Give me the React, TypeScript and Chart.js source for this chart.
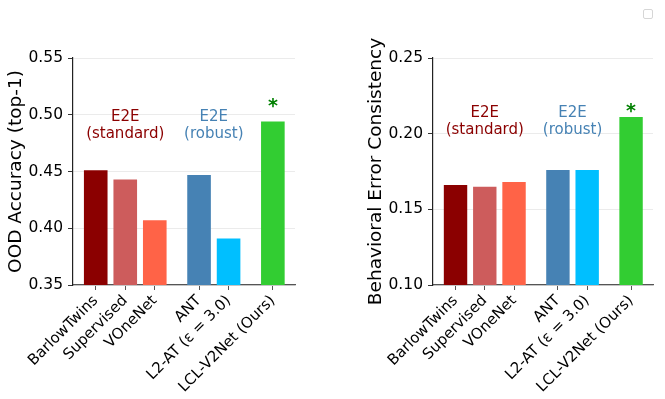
import React, { useEffect, useRef } from "react";
import { Chart, registerables } from "chart.js";

Chart.register(...registerables);

// ---------- data ----------
const categories = ["BarlowTwins", "Supervised", "VOneNet", "ANT", "L2-AT (ε = 3.0)", "LCL-V2Net (Ours)"];
const groupOf = [0, 0, 0, 1, 1, 2];
const oodAccuracy = [0.451, 0.443, 0.407, 0.447, 0.391, 0.494];
const errorConsistency = [0.166, 0.165, 0.168, 0.176, 0.176, 0.211];
const barColors = ["#8B0000", "#CD5C5C", "#FF6347", "#4682B4", "#00BFFF", "#32CD32"];
const oodTicks = [0.35, 0.4, 0.45, 0.5, 0.55];
const consistencyTicks = [0.1, 0.15, 0.2, 0.25];

// category slot = index + half-slot gap per group
const slots = categories.map((_, i) => i + groupOf[i] * 0.5);

const FONT = "'DejaVu Sans', sans-serif";

type Note = { x: number; y: number; text: string; color: string; font: string; baseline?: CanvasTextBaseline };

function notesPlugin(notes: Note[]) {
  return {
    id: "notes",
    afterDatasetsDraw(chart: any) {
      const { ctx, scales } = chart;
      notes.forEach((n) => {
        ctx.save();
        ctx.font = n.font;
        ctx.fillStyle = n.color;
        ctx.textAlign = "center";
        ctx.textBaseline = n.baseline || "middle";
        ctx.fillText(n.text, scales.x.getPixelForValue(n.x), scales.y.getPixelForValue(n.y));
        ctx.restore();
      });
    },
  };
}

function buildConfig(opts: {
  values: number[];
  yTicks: number[];
  title: string;
  padLeft: number;
  padRight: number;
  notes: Note[];
}): any {
  const { values, yTicks, title, padLeft, padRight, notes } = opts;
  return {
    type: "bar",
    data: {
      datasets: [
        {
          data: slots.map((x, i) => ({ x, y: values[i] })),
          backgroundColor: barColors,
          borderWidth: 0,
          barPercentage: 0.8,
          categoryPercentage: 1,
        },
      ],
    },
    options: {
      responsive: false,
      animation: false,
      layout: { padding: { left: padLeft, right: padRight, top: 58, bottom: 0 } },
      plugins: { legend: { display: false }, tooltip: { enabled: false } },
      scales: {
        x: {
          type: "linear",
          offset: false,
          min: -0.77,
          max: 6.75,
          afterBuildTicks: (s: any) => {
            s.ticks = slots.map((v) => ({ value: v }));
          },
          afterFit: (s: any) => {
            s.height = 114;
            s.paddingLeft = 0;
            s.paddingRight = 0;
          },
          ticks: {
            autoSkip: false,
            minRotation: 45,
            maxRotation: 45,
            padding: 2,
            color: "#000",
            font: { family: FONT, size: 15 },
            callback: (_v: any, i: number) => categories[i],
          },
          grid: {
            display: true,
            offset: false,
            drawOnChartArea: false,
            drawTicks: true,
            tickLength: 5,
            tickColor: "#555",
            tickWidth: 1,
          },
          border: { display: true, color: "#555", width: 1.2 },
        },
        y: {
          type: "linear",
          min: yTicks[0],
          max: yTicks[yTicks.length - 1],
          afterBuildTicks: (s: any) => {
            s.ticks = yTicks.map((v) => ({ value: v }));
          },
          afterFit: (s: any) => {
            s.width = 70;
          },
          ticks: {
            padding: 5,
            color: "#000",
            font: { family: FONT, size: 15.5 },
            callback: (v: any) => Number(v).toFixed(2),
          },
          grid: { color: "#ebebeb", lineWidth: 1, tickLength: 5, tickColor: "#333", tickWidth: 1 },
          border: { display: true, color: "#222", width: 1.2 },
          title: {
            display: true,
            text: title,
            color: "#000",
            font: { family: FONT, size: 18.5 },
            padding: { top: 2, bottom: 2 },
          },
        },
      },
    },
    plugins: [notesPlugin(notes)],
  };
}

const red = "#8B0000";
const blue = "#4682B4";
const green = "#008000";
const noteFont = `15px ${FONT}`;
const starFont = `bold 19px ${FONT}`;

export default function App() {
  const leftRef = useRef<HTMLCanvasElement>(null);
  const rightRef = useRef<HTMLCanvasElement>(null);

  useEffect(() => {
    const c1 = new Chart(
      leftRef.current as HTMLCanvasElement,
      buildConfig({
        values: oodAccuracy,
        yTicks: oodTicks,
        title: "OOD Accuracy (top-1)",
        padLeft: 3,
        padRight: 40,
        notes: [
          { x: 1, y: 0.498, text: "E2E", color: red, font: noteFont },
          { x: 1, y: 0.483, text: "(standard)", color: red, font: noteFont },
          { x: 4, y: 0.498, text: "E2E", color: blue, font: noteFont },
          { x: 4, y: 0.483, text: "(robust)", color: blue, font: noteFont },
          { x: 6, y: 0.5027, text: "*", color: green, font: starFont, baseline: "alphabetic" },
        ],
      })
    );
    const c2 = new Chart(
      rightRef.current as HTMLCanvasElement,
      buildConfig({
        values: errorConsistency,
        yTicks: consistencyTicks,
        title: "Behavioral Error Consistency",
        padLeft: 28,
        padRight: 12,
        notes: [
          { x: 1, y: 0.2138, text: "E2E", color: red, font: noteFont },
          { x: 1, y: 0.2022, text: "(standard)", color: red, font: noteFont },
          { x: 4, y: 0.2138, text: "E2E", color: blue, font: noteFont },
          { x: 4, y: 0.2022, text: "(robust)", color: blue, font: noteFont },
          { x: 6, y: 0.2107, text: "*", color: green, font: starFont, baseline: "alphabetic" },
        ],
      })
    );
    return () => {
      c1.destroy();
      c2.destroy();
    };
  }, []);

  return (
    <div style={{ position: "absolute", left: 0, top: 0, width: 665, height: 399, background: "#fff", overflow: "hidden" }}>
      <canvas ref={leftRef} width={335} height={399} style={{ position: "absolute", left: 0, top: 0, width: 335, height: 399 }} />
      <canvas ref={rightRef} width={330} height={399} style={{ position: "absolute", left: 335, top: 0, width: 330, height: 399 }} />
      <div
        style={{
          position: "absolute",
          left: 643,
          top: 9,
          width: 8,
          height: 8,
          border: "1px solid #d6d6d6",
          borderRadius: 2,
          background: "#fff",
        }}
      />
    </div>
  );
}
